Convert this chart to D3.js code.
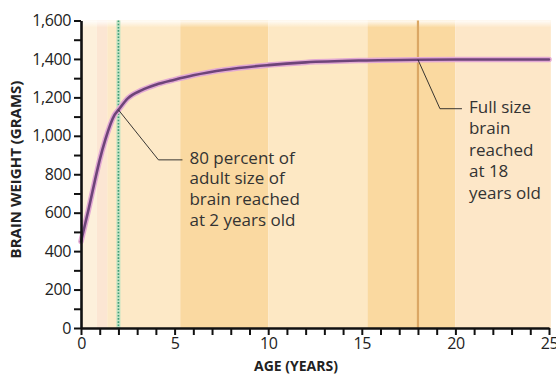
<!DOCTYPE html>
<html>
<head>
<meta charset="utf-8">
<script src="https://cdn.jsdelivr.net/npm/d3@7"></script>
<style>
  html, body { margin: 0; padding: 0; background: #ffffff; }
  svg { display: block; }
  text { font-family: "Open Sans", "Noto Sans", sans-serif; }
</style>
</head>
<body>
<svg id="chart" width="556" height="374"></svg>
<script>
// ---- data ----
const ages    = [0,   0.4, 0.75, 1.0, 1.3, 1.8,  2.0,  2.5,  3.25, 4,    5,    6,    7.7,  10,   12,   15,   18,   20,   25];
const weights = [450, 615, 770,  875, 980, 1110, 1135, 1195, 1238, 1266, 1292, 1315, 1344, 1368, 1382, 1392, 1396, 1397, 1397];
const yTicks = [0, 200, 400, 600, 800, 1000, 1200, 1400, 1600];
const xTicks = [0, 5, 10, 15, 20, 25];
const bandStart = [0,    0.85, 1.4,  5.3,  10,   15.3, 20];
const bandEnd   = [0.85, 1.4,  5.3,  10,   15.3, 20,   25.1];
const bandFill  = ["#fdf0db", "#fce6d3", "#fde9c7", "#fad9a1", "#fde8c4", "#fad9a0", "#fde7c8"];
const markAge1 = 2, markWeight1 = 1135;
const markAge2 = 18, markWeight2 = 1396;
const note1 = ["80 percent of", "adult size of", "brain reached", "at 2 years old"];
const note2 = ["Full size", "brain", "reached", "at 18", "years old"];

// ---- layout ----
const svg = d3.select("#chart");
const x = d3.scaleLinear().domain([0, 25]).range([81, 549]);
const y = d3.scaleLinear().domain([0, 1600]).range([328, 20.5]);

// background bands
svg.append("g").selectAll("rect").data(bandStart).join("rect")
  .attr("x", (d, i) => x(d))
  .attr("width", (d, i) => x(bandEnd[i]) - x(d))
  .attr("y", y(1600))
  .attr("height", y(0) - y(1600))
  .attr("fill", (d, i) => bandFill[i]);

// top fade
const defs = svg.append("defs");
const g1 = defs.append("linearGradient").attr("id", "fadeTop").attr("x1", 0).attr("y1", 0).attr("x2", 0).attr("y2", 1);
g1.append("stop").attr("offset", 0).attr("stop-color", "#fff").attr("stop-opacity", 0.9);
g1.append("stop").attr("offset", 1).attr("stop-color", "#fff").attr("stop-opacity", 0);
svg.append("rect").attr("x", x(0)).attr("y", y(1600)).attr("width", x(25.1) - x(0)).attr("height", 7).attr("fill", "url(#fadeTop)");

// age 2 marker (green dotted)
svg.append("line").attr("x1", x(markAge1)).attr("x2", x(markAge1)).attr("y1", y(1600)).attr("y2", y(0))
  .attr("stroke", "#bfe3c3").attr("stroke-width", 4);
svg.append("line").attr("x1", x(markAge1)).attr("x2", x(markAge1)).attr("y1", y(1600)).attr("y2", y(0))
  .attr("stroke", "#3f9c76").attr("stroke-width", 1.6).attr("stroke-dasharray", "1.6,1.6");

// age 18 marker (tan)
svg.append("line").attr("x1", x(markAge2)).attr("x2", x(markAge2)).attr("y1", y(1600)).attr("y2", y(0))
  .attr("stroke", "#dba764").attr("stroke-width", 2.2);

// curve
const line = d3.line().x((d, i) => x(ages[i])).y(d => y(d)).curve(d3.curveMonotoneX);
svg.append("path").datum(weights).attr("d", line).attr("fill", "none")
  .attr("stroke", "#e2a9d3").attr("stroke-width", 5.5).attr("stroke-linecap", "round");
svg.append("path").datum(weights).attr("d", line).attr("fill", "none")
  .attr("stroke", "#6e4479").attr("stroke-width", 2.6).attr("stroke-linecap", "round");

// annotations
const p1 = [x(markAge1), y(markWeight1)];
svg.append("path").attr("d", `M${p1[0]},${p1[1]} L${p1[0] + 40},${p1[1] + 50} L${p1[0] + 64},${p1[1] + 50}`)
  .attr("fill", "none").attr("stroke", "#222").attr("stroke-width", 0.9);
note1.forEach((s, i) => svg.append("text").attr("x", p1[0] + 71).attr("y", p1[1] + 54 + i * 20.6)
  .attr("fill", "#333").attr("font-size", 17).text(s));

const p2 = [x(markAge2), y(markWeight2)];
svg.append("path").attr("d", `M${p2[0]},${p2[1]} L${p2[0] + 22},${p2[1] + 49} L${p2[0] + 44},${p2[1] + 49}`)
  .attr("fill", "none").attr("stroke", "#222").attr("stroke-width", 0.9);
note2.forEach((s, i) => svg.append("text").attr("x", p2[0] + 51).attr("y", p2[1] + 53 + i * 21.5)
  .attr("fill", "#333").attr("font-size", 17).text(s));

// axes
const yAxis = svg.append("g").attr("transform", `translate(${x(0)},0)`)
  .call(d3.axisLeft(y).tickValues(yTicks).tickSize(7).tickSizeOuter(0).tickPadding(3).tickFormat(d3.format(",")));
const yMinor = svg.append("g").attr("transform", `translate(${x(0)},0)`)
  .call(d3.axisLeft(y).tickValues(d3.range(100, 1600, 200)).tickSize(7).tickSizeOuter(0).tickFormat(""));
const xAxis = svg.append("g").attr("transform", `translate(0,${y(0)})`)
  .call(d3.axisBottom(x).tickValues(xTicks).tickSize(7).tickSizeOuter(0).tickPadding(3));
const xMinor = svg.append("g").attr("transform", `translate(0,${y(0)})`)
  .call(d3.axisBottom(x).tickValues(d3.range(1, 25).filter(v => v % 5)).tickSize(7).tickSizeOuter(0).tickFormat(""));

[yAxis, yMinor, xAxis, xMinor].forEach(g => {
  g.select(".domain").attr("stroke", "#111").attr("stroke-width", 2.6);
  g.selectAll(".tick line").attr("stroke", "#111").attr("stroke-width", 2);
  g.selectAll(".tick text").attr("fill", "#222").attr("font-size", 16)
    .attr("font-family", "'Open Sans', sans-serif").attr("letter-spacing", "-0.4px");
});
yMinor.select(".domain").remove();
xMinor.select(".domain").remove();

// axis titles
svg.append("text").attr("x", 296).attr("y", 371).attr("text-anchor", "middle")
  .attr("font-weight", 700).attr("font-size", 14).attr("fill", "#222").text("AGE (YEARS)");
svg.append("text").attr("transform", "translate(21,169.5) rotate(-90)").attr("text-anchor", "middle")
  .attr("font-weight", 700).attr("font-size", 15).attr("fill", "#222").text("BRAIN WEIGHT (GRAMS)");
</script>
</body>
</html>
